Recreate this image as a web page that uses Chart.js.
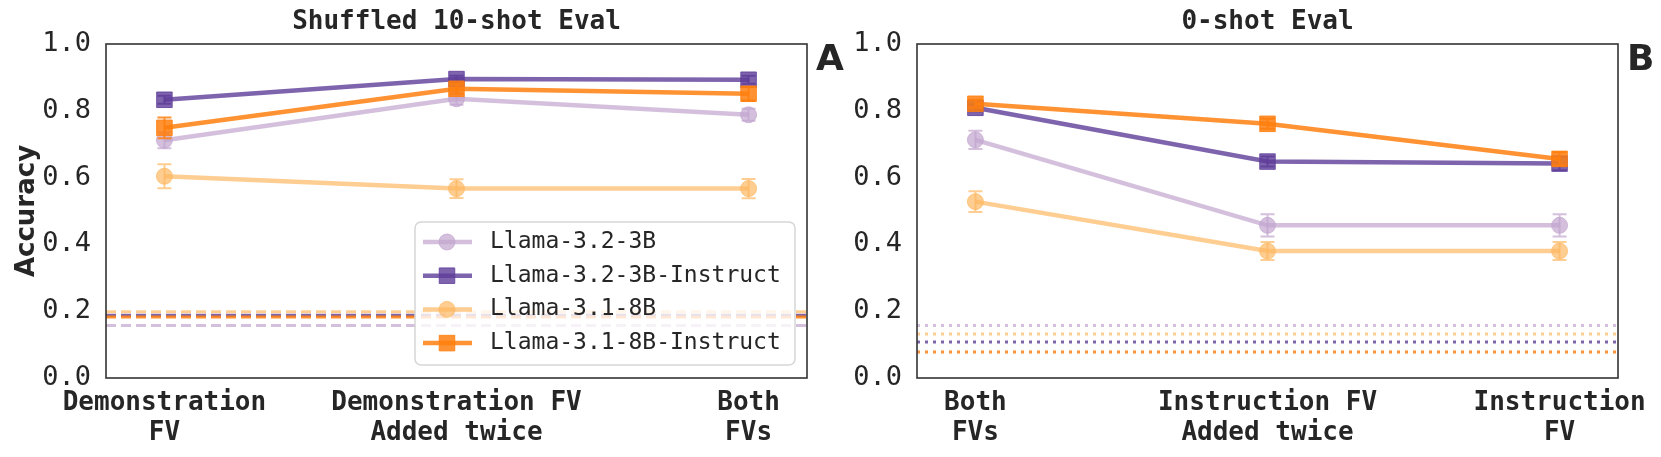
<!DOCTYPE html>
<html>
<head>
<meta charset="utf-8">
<script src="https://cdn.jsdelivr.net/npm/chart.js@4.4.1/dist/chart.umd.min.js"></script>
<style>
  html, body { margin: 0; padding: 0; background: #fff; }
  #wrap { position: relative; width: 1661px; height: 457px; overflow: hidden; }
  canvas { position: absolute; top: 0; }
</style>
</head>
<body>
<div id="wrap">
  <canvas id="left" width="860" height="457" style="left:0px"></canvas>
  <canvas id="right" width="821" height="457" style="left:840px"></canvas>
</div>
<script>
// series info
const seriesNames = ['Llama-3.2-3B', 'Llama-3.2-3B-Instruct', 'Llama-3.1-8B', 'Llama-3.1-8B-Instruct'];
const seriesColors = ['rgba(194,165,207,0.7)', 'rgba(94,60,153,0.8)', 'rgba(253,184,99,0.7)', 'rgba(255,127,14,0.85)'];
const seriesMarkers = ['circle', 'rect', 'circle', 'rect'];

// panel A: shuffled 10-shot
const shuffledLabels = [['Demonstration', 'FV'], ['Demonstration FV', 'Added twice'], ['Both', 'FVs']];
const shuffled32 = [0.712, 0.836, 0.788];
const shuffled32Instr = [0.833, 0.895, 0.893];
const shuffled31 = [0.604, 0.567, 0.567];
const shuffled31Instr = [0.749, 0.866, 0.851];
const shuffled32Err = [0.024, 0.018, 0.018];
const shuffled32InstrErr = [0.012, 0.010, 0.012];
const shuffled31Err = [0.036, 0.028, 0.029];
const shuffled31InstrErr = [0.031, 0.015, 0.020];
const shuffledBaseline = [0.157, 0.188, 0.198, 0.183];

// panel B: 0-shot
const zeroLabels = [['Both', 'FVs'], ['Instruction FV', 'Added twice'], ['Instruction', 'FV']];
const zero32 = [0.713, 0.457, 0.457];
const zero32Instr = [0.809, 0.648, 0.642];
const zero31 = [0.528, 0.380, 0.380];
const zero31Instr = [0.821, 0.761, 0.656];
const zero32Err = [0.027, 0.033, 0.033];
const zero32InstrErr = [0.010, 0.015, 0.020];
const zero31Err = [0.031, 0.027, 0.027];
const zero31InstrErr = [0.012, 0.015, 0.020];
const zeroBaseline = [0.157, 0.108, 0.132, 0.078];

const yTicks = [0, 0.2, 0.4, 0.6, 0.8, 1.0];

const textColor = '#262626';
const mono = 'DejaVu Sans Mono';

function markerRadius(i) {
  return seriesMarkers[i] === 'rect' ? 11 : 8;
}

// frame, error bars, panel letter and legend
const panelPlugin = {
  id: 'panel',
  afterDatasetDraw(chart, args) {
    const ds = chart.data.datasets[args.index];
    if (!ds.errors) return;
    const {ctx} = chart;
    const xs = chart.scales.x, ys = chart.scales.y;
    ctx.save();
    ctx.strokeStyle = ds.borderColor;
    ctx.lineWidth = 2;
    ds.data.forEach((p, i) => {
      const e = ds.errors[i];
      const px = xs.getPixelForValue(p.x);
      const top = ys.getPixelForValue(p.y + e);
      const bot = ys.getPixelForValue(p.y - e);
      ctx.beginPath();
      ctx.moveTo(px, top); ctx.lineTo(px, bot);
      ctx.moveTo(px - 7, top); ctx.lineTo(px + 7, top);
      ctx.moveTo(px - 7, bot); ctx.lineTo(px + 7, bot);
      ctx.stroke();
    });
    ctx.restore();
  },
  afterDraw(chart, args, opts) {
    const {ctx, chartArea: a} = chart;
    ctx.save();
    ctx.strokeStyle = '#333';
    ctx.lineWidth = 1.6;
    ctx.strokeRect(a.left, a.top, a.right - a.left, a.bottom - a.top);

    ctx.fillStyle = textColor;
    ctx.font = 'bold 36px "DejaVu Sans"';
    ctx.textAlign = 'left';
    ctx.textBaseline = 'middle';
    ctx.fillText(opts.letter, a.right + 9, a.top + 17);

    if (opts.legend) {
      const w = 380, h = 143;
      const x0 = a.right - 12 - w, y0 = a.bottom - 13 - h;
      ctx.beginPath();
      ctx.roundRect(x0, y0, w, h, 6);
      ctx.fillStyle = 'rgba(255,255,255,0.8)';
      ctx.fill();
      ctx.strokeStyle = '#d6d6d6';
      ctx.lineWidth = 1.5;
      ctx.stroke();
      seriesNames.forEach((name, i) => {
        const cy = y0 + 20 + i * 33.7;
        ctx.strokeStyle = seriesColors[i];
        ctx.fillStyle = seriesColors[i];
        ctx.lineWidth = 4.5;
        ctx.beginPath();
        ctx.moveTo(x0 + 8, cy); ctx.lineTo(x0 + 57, cy);
        ctx.stroke();
        ctx.lineWidth = 1;
        Chart.helpers.drawPoint(ctx, {pointStyle: seriesMarkers[i], radius: markerRadius(i), borderWidth: 1}, x0 + 32, cy);
        ctx.fillStyle = textColor;
        ctx.font = '23px "' + mono + '"';
        ctx.textBaseline = 'middle';
        ctx.fillText(name, x0 + 75, cy);
      });
    }
    ctx.restore();
  }
};

function makeChart(id, cfg) {
  const datasets = [];
  cfg.values.forEach((vals, i) => {
    datasets.push({
      label: seriesNames[i],
      data: vals.map((v, k) => ({x: k, y: v})),
      errors: cfg.errors[i],
      borderColor: seriesColors[i],
      backgroundColor: seriesColors[i],
      pointBackgroundColor: seriesColors[i],
      pointBorderColor: seriesColors[i],
      borderWidth: 4.5,
      pointStyle: seriesMarkers[i],
      pointRadius: markerRadius(i),
      pointBorderWidth: 1,
      order: 10 - i
    });
  });
  cfg.baseline.forEach((b, i) => {
    datasets.push({
      label: seriesNames[i] + ' baseline',
      data: [{x: -0.2, y: b}, {x: 2.2, y: b}],
      borderColor: seriesColors[i],
      borderWidth: 3,
      borderDash: cfg.dash,
      pointRadius: 0,
      order: 20 - i
    });
  });

  return new Chart(document.getElementById(id), {
    type: 'line',
    data: {datasets},
    options: {
      responsive: false,
      animation: false,
      devicePixelRatio: 1,
      layout: {padding: {left: 0, right: cfg.rightPad, top: 0, bottom: 0}},
      elements: {line: {tension: 0}},
      plugins: {
        legend: {display: false},
        tooltip: {enabled: false},
        title: {
          display: true,
          text: cfg.title,
          fullSize: false,
          color: textColor,
          font: {family: mono, size: 26, weight: 'bold'},
          padding: {top: 6.4, bottom: 6.4}
        },
        panel: {letter: cfg.letter, legend: cfg.legend}
      },
      scales: {
        x: {
          type: 'linear',
          min: -0.2,
          max: 2.2,
          grid: {display: false, drawTicks: false},
          border: {display: false},
          afterBuildTicks: s => { s.ticks = cfg.labels.map((l, k) => ({value: k})); },
          afterFit: s => { s.height = 79; },
          ticks: {
            autoSkip: false,
            maxRotation: 0,
            minRotation: 0,
            padding: 10,
            color: textColor,
            font: {family: mono, size: 26, weight: 'bold', lineHeight: 1.15},
            callback: v => cfg.labels[v]
          }
        },
        y: {
          min: 0,
          max: 1,
          grid: {display: false, drawTicks: false},
          border: {display: false},
          afterBuildTicks: s => { s.ticks = yTicks.map(v => ({value: v})); },
          afterFit: s => { s.width = cfg.yWidth; },
          ticks: {
            padding: 15,
            color: textColor,
            font: {family: mono, size: 27},
            callback: v => v.toFixed(1)
          },
          title: {
            display: cfg.yTitle,
            text: 'Accuracy',
            color: textColor,
            font: {family: 'DejaVu Sans', size: 26, weight: 'bold'},
            padding: {top: 11.4, bottom: 0}
          }
        }
      }
    },
    plugins: [panelPlugin]
  });
}

makeChart('left', {
  title: 'Shuffled 10-shot Eval',
  labels: shuffledLabels,
  values: [shuffled32, shuffled32Instr, shuffled31, shuffled31Instr],
  errors: [shuffled32Err, shuffled32InstrErr, shuffled31Err, shuffled31InstrErr],
  baseline: shuffledBaseline,
  dash: [10, 5],
  letter: 'A',
  legend: true,
  yTitle: true,
  yWidth: 106,
  rightPad: 53
});

makeChart('right', {
  title: '0-shot Eval',
  labels: zeroLabels,
  values: [zero32, zero32Instr, zero31, zero31Instr],
  errors: [zero32Err, zero32InstrErr, zero31Err, zero31InstrErr],
  baseline: zeroBaseline,
  dash: [3, 5],
  letter: 'B',
  legend: false,
  yTitle: false,
  yWidth: 77,
  rightPad: 43
});
</script>
</body>
</html>
